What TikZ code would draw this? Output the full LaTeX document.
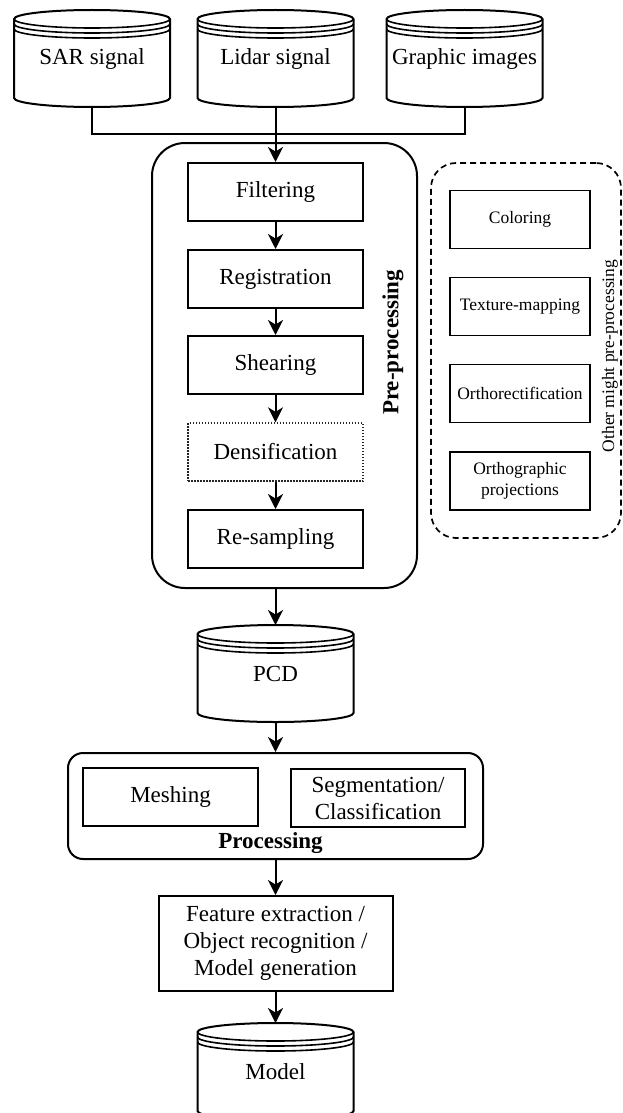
\documentclass[tikz,border=0pt]{standalone}
\usepackage{fontspec}
\setmainfont{Liberation Serif}
\usetikzlibrary{arrows.meta}
\tikzset{
  ln/.style={line width=2pt},
  thinln/.style={line width=1.6pt},
  box/.style={draw, line width=2pt, minimum width=175pt, minimum height=58pt, inner sep=0pt, font=\fontsize{23}{27}\selectfont, align=center},
  sbox/.style={draw, line width=1.8pt, minimum width=140pt, minimum height=58pt, inner sep=0pt, font=\fontsize{17.5}{21}\selectfont, align=center},
  store/.style={minimum width=156pt, minimum height=97pt, inner sep=0pt, anchor=north, font=\fontsize{23}{27}\selectfont, align=center},
  arr/.style={line width=2pt, -{Stealth[length=15pt,width=15pt,inset=4.5pt]}},
  grp/.style={draw, line width=2pt, inner sep=0pt},
  bigfont/.style={font=\fontsize{23}{27}\selectfont},
}
\newcommand\dstore[4]{%
  \node[store] (#1) at (#2,#3) {#4};
  \pgfmathsetmacro\dsL{#2-78}
  \pgfmathsetmacro\dsR{#2+78}
  \pgfmathsetmacro\dsA{#3+9}
  \pgfmathsetmacro\dsB{#3+14}
  \pgfmathsetmacro\dsC{#3+19}
  \pgfmathsetmacro\dsD{#3+88}
  \draw[ln] (\dsL,\dsA) -- (\dsL,\dsD) arc[start angle=180,end angle=360,x radius=78pt,y radius=9pt]
     -- (\dsR,\dsA) arc[start angle=0,end angle=180,x radius=78pt,y radius=9pt] -- cycle;
  \draw[thinln] (\dsL,\dsA) arc[start angle=180,end angle=360,x radius=78pt,y radius=9pt];
  \draw[thinln] (\dsL,\dsB) arc[start angle=180,end angle=360,x radius=78pt,y radius=9pt];
  \draw[thinln] (\dsL,\dsC) arc[start angle=180,end angle=360,x radius=78pt,y radius=9pt];
}
\begin{document}
\begin{tikzpicture}[x=1pt,y=-1pt]
\useasboundingbox (0,0) rectangle (622,1113);

% sources
\dstore{sar}{92}{10}{SAR signal}
\dstore{lid}{275.5}{10}{Lidar signal}
\dstore{gra}{464.5}{10}{Graphic images}
\coordinate (jn) at (275.5,134);

% pre-processing group
\node[grp, rounded corners=33pt, minimum width=265pt, minimum height=445pt] (pre) at (284.5,365.5) {};
\node[font=\fontsize{23}{27}\selectfont\bfseries, rotate=90] (prelbl) at (393,342.5) {Pre-processing};

\node[box] (filt) at (275.5,192) {Filtering};
\node[box] (reg) at (275.5,279) {Registration};
\node[box] (shear) at (275.5,365) {Shearing};
\node[box, draw=black!85, line width=1.3pt, dash pattern=on 1.5pt off 1.5pt] (dens) at (275.5,452) {Densification};
\node[box] (resamp) at (275.5,539) {Re-sampling};

% other pre-processing
\node[grp, line width=1.7pt, dash pattern=on 6pt off 4pt, rounded corners=25pt, minimum width=190pt, minimum height=375pt] (other) at (526,350.5) {};
\node[sbox] (col) at (520,219.5) {Coloring};
\node[sbox] (tex) at (520,306.5) {Texture-mapping};
\node[sbox] (orec) at (520,393.5) {Orthorectification};
\node[sbox] (ogr) at (520,481) {Orthographic\\projections};
\node[font=\fontsize{17.5}{21}\selectfont, rotate=90] (otherlbl) at (610,356) {Other might pre-processing};

% PCD
\dstore{pcd}{275.5}{625}{PCD}

% processing group
\node[grp, rounded corners=15pt, minimum width=415pt, minimum height=106pt] (proc) at (275.5,806) {};
\node[box] (mesh) at (170.5,797) {Meshing};
\node[box, minimum width=174pt] (seg) at (378,798) {Segmentation/\\Classification};
\node[font=\fontsize{23}{27}\selectfont\bfseries] (proclbl) at (270.5,843) {Processing};

% feature
\node[box, minimum width=234pt, minimum height=95pt] (feat) at (275.5,943.5) {Feature extraction /\\Object recognition /\\ Model generation};

% model
\dstore{model}{275.5}{1023}{Model}

% connectors
\draw[ln] (sar.south) |- (jn);
\draw[ln] (gra.south) |- (jn);
\draw[arr] (lid.south) -- (filt.north);
\draw[arr] (filt) -- (reg);
\draw[arr] (reg) -- (shear);
\draw[arr] (shear) -- (dens);
\draw[arr] (dens) -- (resamp);
\draw[arr] (pre.south -| pcd.north) -- (pcd.north);
\draw[arr] (pcd.south) -- (proc.north);
\draw[arr] (proc.south) -- (feat.north);
\draw[arr] (feat.south) -- (model.north);
\end{tikzpicture}
\end{document}
